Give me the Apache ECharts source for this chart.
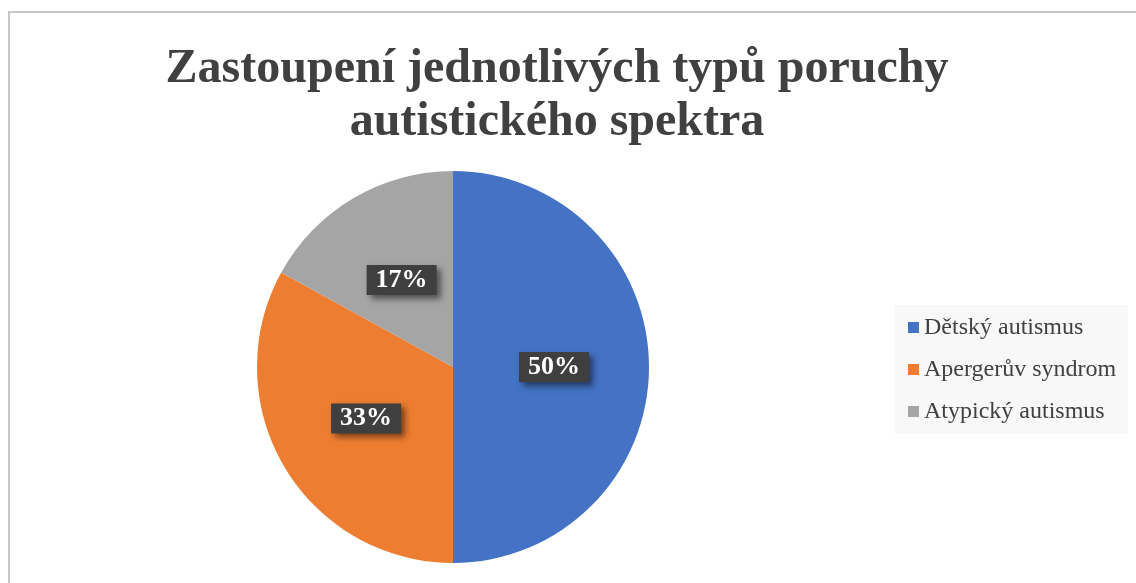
<!DOCTYPE html>
<html>
<head>
<meta charset="utf-8">
<script src="https://cdn.jsdelivr.net/npm/echarts@6/dist/echarts.min.js"></script>
<style>
  html, body { margin: 0; padding: 0; background: #fff; }
  #frame {
    position: absolute; left: 8px; top: 11px; width: 1200px; height: 700px;
    border-left: 2px solid #c6c6c6; border-top: 2px solid #c6c6c6;
  }
  #chart { position: absolute; left: 0; top: 0; width: 1136px; height: 583px; }
</style>
</head>
<body>
<div id="frame"></div>
<div id="chart"></div>
<script>
// data
const categories = ["Dětský autismus", "Apergerův syndrom", "Atypický autismus"];
const shares = [50, 33, 17];
const colors = ["#4472C4", "#ED7D31", "#A5A5A5"];
const titleText = "Zastoupení jednotlivých typů poruchy\nautistického spektra";

const serif = "'Liberation Serif', 'DejaVu Serif', serif";

const chart = echarts.init(document.getElementById("chart"));
chart.setOption({
    backgroundColor: "transparent",
    title: {
        text: titleText,
        left: 552,
        top: 38,
        textAlign: "center",
        textStyle: {
            fontFamily: serif,
            fontWeight: "bold",
            fontSize: 48,
            lineHeight: 53,
            color: "#404040"
        }
    },
    legend: {
        orient: "vertical",
        left: 895,
        top: 305,
        width: 235,
        padding: [10, 12, 10, 13],
        itemGap: 17,
        itemWidth: 11,
        itemHeight: 11,
        icon: "rect",
        backgroundColor: "#f8f8f8",
        data: categories,
        textStyle: {
            fontFamily: serif,
            fontSize: 24,
            lineHeight: 25,
            color: "#404040"
        }
    },
    series: [
        {
            type: "pie",
            center: [453, 367],
            radius: 196,
            startAngle: 90,
            clockwise: true,
            silent: true,
            animation: false,
            data: categories.map((name, i) => ({
                name,
                value: shares[i],
                itemStyle: { color: colors[i] }
            })),
            label: {
                show: true,
                position: "inside",
                formatter: "{d}%",
                fontFamily: serif,
                fontWeight: "bold",
                fontSize: 26,
                color: "#fff",
                width: 56,
                align: "center",
                lineHeight: 26,
                padding: [2, 7, 2, 7],
                backgroundColor: "#3f3f3f",
                shadowColor: "rgba(0,0,0,0.5)",
                shadowBlur: 6,
                shadowOffsetX: 4,
                shadowOffsetY: 4
            },
            labelLine: { show: false }
        }
    ]
});
</script>
</body>
</html>
